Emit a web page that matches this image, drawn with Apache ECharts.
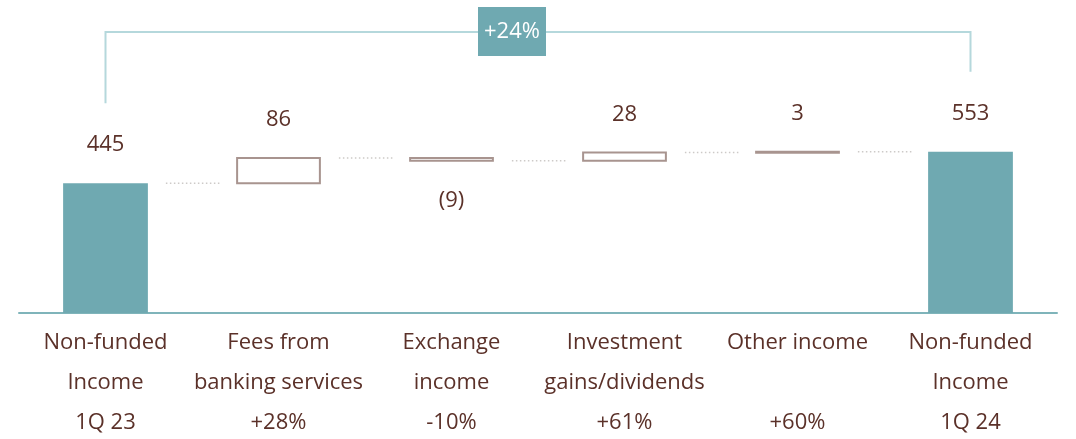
<!DOCTYPE html>
<html>
<head>
<meta charset="utf-8">
<script src="https://cdn.jsdelivr.net/npm/echarts@6/dist/echarts.min.js"></script>
<style>
  html, body { margin: 0; padding: 0; background: #fff; }
  #chart { width: 1076px; height: 439px; }
</style>
</head>
<body>
<div id="chart"></div>
<script>
// data
const categories = ['Non-funded\nIncome', 'Fees from\nbanking services', 'Exchange\nincome', 'Investment\ngains/dividends', 'Other income\n', 'Non-funded\nIncome'];
const subLabels = ['1Q 23', '+28%', '-10%', '+61%', '+60%', '1Q 24'];
const values = [445, 86, -9, 28, 3, 553];
const isTotal = [true, false, false, false, false, true];
const valueLabels = ['445', '86', '(9)', '28', '3', '553'];
const totalGrowth = '+24%';

const TEAL = '#6fa9b1';
const BROWN = '#5b3129';
const FONT = '"Open Sans", "Noto Sans", sans-serif';

// running sums for the waterfall
let run = 0;
const rows = values.map(function (v, i) {
  let s, e;
  if (isTotal[i]) { s = 0; e = v; }
  else { s = run; e = run + v; }
  run = e;
  return [i, s, e];
});

function renderStep(params, api) {
  const i = api.value(0), s = api.value(1), e = api.value(2);
  const w = api.size([1, 0])[0] * 0.49;
  const pS = api.coord([i, s]), pE = api.coord([i, e]);
  const top = Math.min(pS[1], pE[1]), bottom = Math.max(pS[1], pE[1]);
  const children = [];
  if (isTotal[i]) {
    children.push({ type: 'rect', shape: { x: pE[0] - w / 2, y: top, width: w, height: bottom - top }, style: { fill: TEAL } });
  } else {
    children.push({ type: 'rect', shape: { x: pE[0] - w / 2 + 1, y: top, width: w - 2, height: Math.max(bottom - top, 1) }, style: { fill: '#fff', stroke: '#a8948f', lineWidth: 2 } });
  }
  const neg = e < s;
  children.push({
    type: 'text',
    style: { text: valueLabels[i], x: pE[0], y: neg ? bottom + 40 : top - 38, align: 'center', verticalAlign: 'middle', font: '22px ' + FONT, fill: BROWN }
  });
  // dotted connector to next step
  if (i < values.length - 1) {
    const next = api.coord([i + 1, e]);
    children.push({
      type: 'line',
      shape: { x1: pE[0] + w / 2 + 18, y1: pE[1], x2: next[0] - w / 2 - 16, y2: pE[1] },
      style: { stroke: '#cdcac8', lineWidth: 1.5, lineDash: [1.5, 2.5] }
    });
  }
  return { type: 'group', children: children };
}

function renderBracket(params, api) {
  const a = api.coord([api.value(0), api.value(1)]);
  const b = api.coord([api.value(2), api.value(3)]);
  const topY = 32;
  const mid = (a[0] + b[0]) / 2 - 26;
  return {
    type: 'group',
    children: [
      { type: 'polyline', shape: { points: [[a[0], a[1] - 80], [a[0], topY], [b[0], topY], [b[0], b[1] - 80]] }, style: { stroke: '#b5d8dc', lineWidth: 2, fill: null } },
      { type: 'rect', shape: { x: mid - 34, y: 7, width: 68, height: 49 }, style: { fill: TEAL } },
      { type: 'text', style: { text: totalGrowth, x: mid, y: 32, align: 'center', verticalAlign: 'middle', font: '22px ' + FONT, fill: '#fff' } }
    ]
  };
}

const chart = echarts.init(document.getElementById('chart'));
chart.setOption({
  animation: false,
  grid: { left: 19, right: 19, top: 100, bottom: 126, outerBoundsMode: 'none' },
  xAxis: {
    type: 'category',
    data: categories,
    axisLine: { lineStyle: { color: '#7fb4ba', width: 2 } },
    axisTick: { show: false },
    axisLabel: {
      interval: 0,
      margin: 10,
      fontSize: 22,
      lineHeight: 40,
      fontFamily: FONT,
      color: BROWN,
      formatter: function (val, idx) { return val + '\n' + subLabels[idx]; }
    }
  },
  yAxis: { type: 'value', min: 0, max: 730, show: false },
  series: [
    { type: 'custom', renderItem: renderStep, data: rows, encode: { x: 0, y: [1, 2] } },
    { type: 'custom', renderItem: renderBracket, data: [[0, values[0], values.length - 1, values[values.length - 1]]], encode: { x: 0, y: 1 } }
  ]
});
</script>
</body>
</html>
